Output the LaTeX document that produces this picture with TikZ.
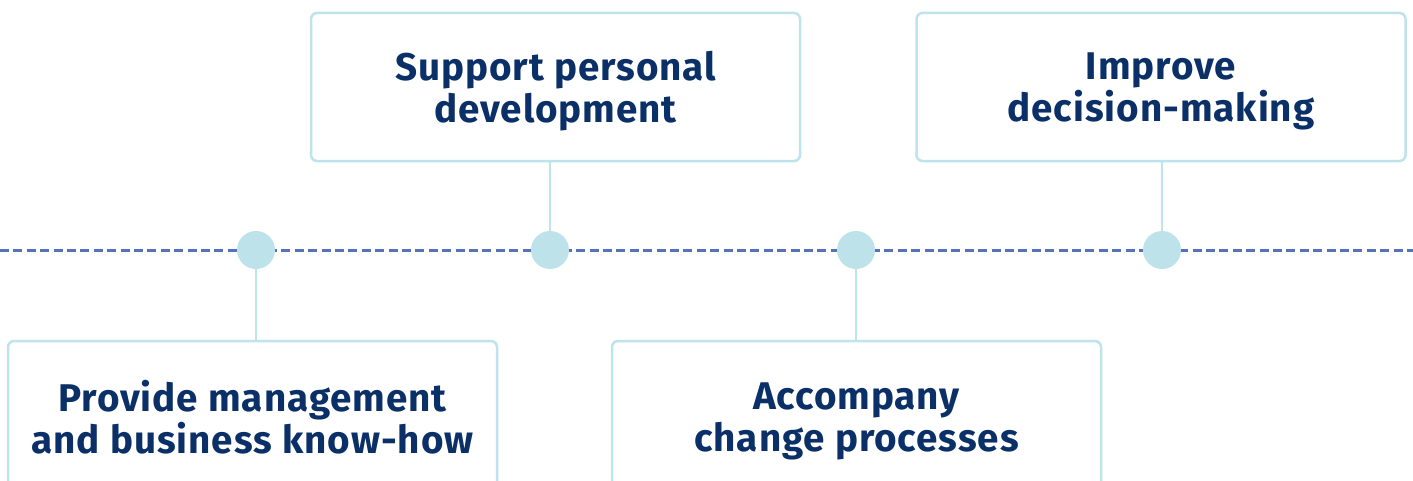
\documentclass[tikz,border=0pt]{standalone}
\usepackage{fontspec}
\setmainfont{Fira Sans}[LetterSpace=2.5]
\usetikzlibrary{positioning}
\definecolor{boxline}{HTML}{BEE3EA}
\definecolor{dotfill}{HTML}{BDE2E9}
\definecolor{dashcol}{HTML}{5573B8}
\definecolor{navy}{HTML}{0B3068}

\begin{document}
\begin{tikzpicture}[x=0.5pt,y=-0.5pt,{goal/.style={rectangle,rounded corners=3pt,draw=boxline,line width=1.25pt,fill=white,minimum width=244.5pt,minimum height=74pt,align=center,text depth=0pt,text=navy,font=\fontsize{19.3}{21}\selectfont\bfseries}},{dot/.style={circle,fill=dotfill,inner sep=0pt,minimum size=19pt}},{stem/.style={draw=boxline,line width=1.25pt}}]
		\useasboundingbox (0,0) rectangle (1413,481);
		\clip (0,0) rectangle (1413,481);
		%%time line
		\coordinate (L) at (0,250);
		\coordinate (R) at (1413,250);
		\draw [dashcol,line width=1.5pt,dash pattern=on 4.5pt off 2.2pt] (L) -- (R);
		%%boxes
		\node at (555.5,87) [goal] (b1) {Support personal\\development};
		\node at (1161,87) [goal] (b2) {Improve\\decision-making};
		\node at (252.5,417) [goal,minimum height=76pt] (b3) {Provide management\\and business know-how};
		\node at (856.5,417) [goal,minimum height=76pt] (b4) {Accompany\\change processes};
		%%stems
		\coordinate (d1) at (256,250);
		\coordinate (d2) at (550,250);
		\coordinate (d3) at (856,250);
		\coordinate (d4) at (1162,250);
		\draw [stem] (b1.south -| d2) -- (d2);
		\draw [stem] (b2.south -| d4) -- (d4);
		\draw [stem] (b3.north -| d1) -- (d1);
		\draw [stem] (b4.north -| d3) -- (d3);
		%%dots
		\node at (d1) [dot] (n1) {};
		\node at (d2) [dot] (n2) {};
		\node at (d3) [dot] (n3) {};
		\node at (d4) [dot] (n4) {};
	\end{tikzpicture}
\end{document}
